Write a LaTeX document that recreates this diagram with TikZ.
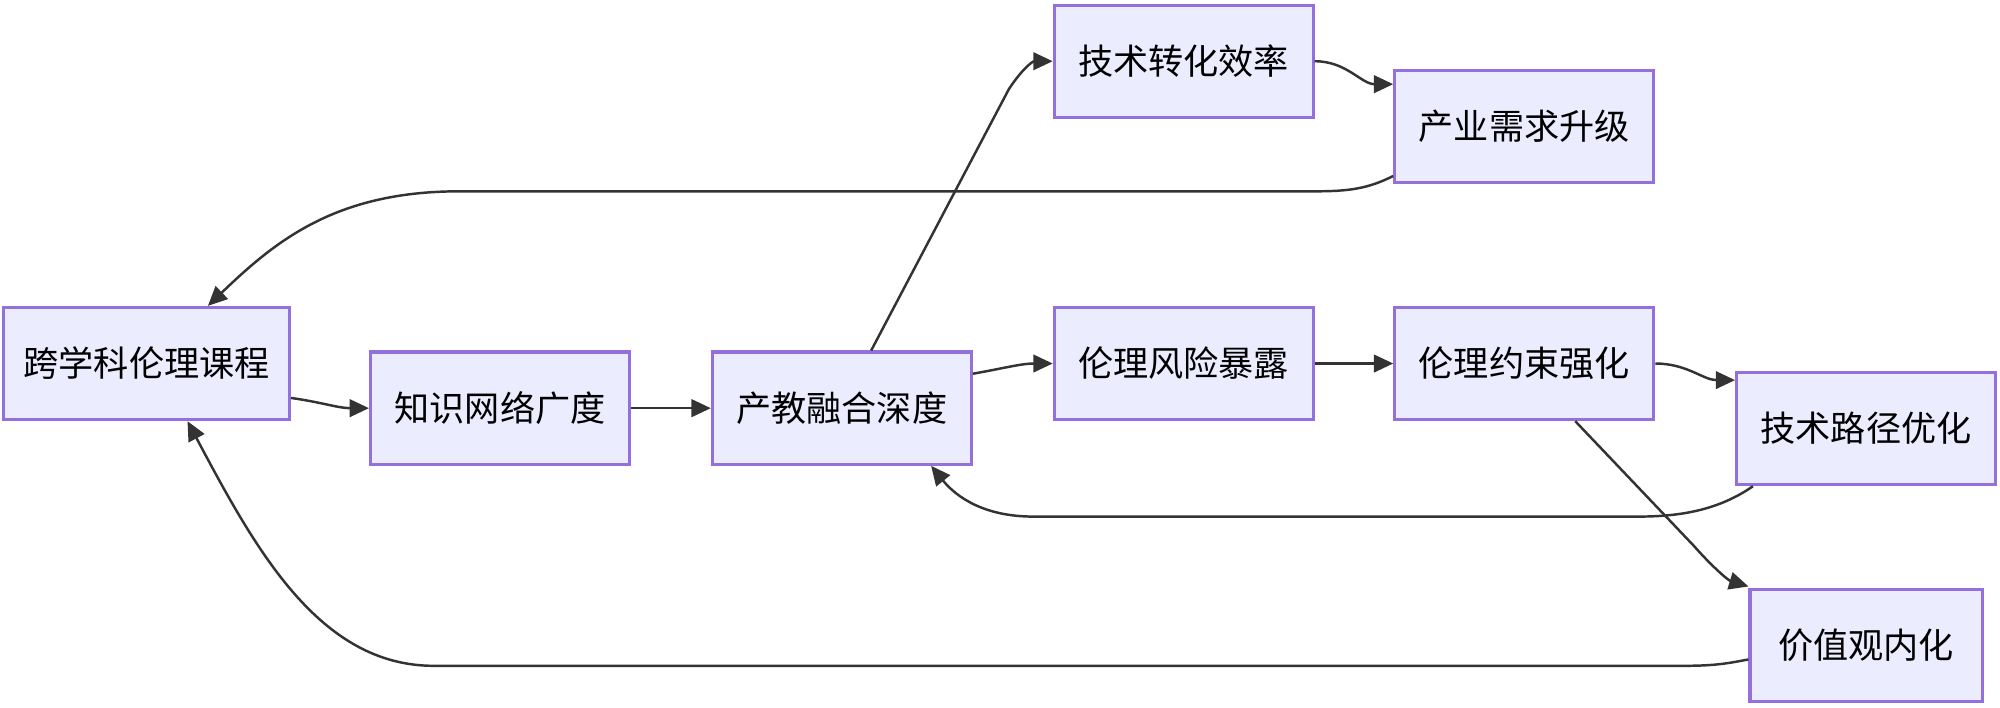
\documentclass[tikz,border=0pt]{standalone}
\usepackage{fontspec}
\setmainfont{Noto Sans CJK SC}
\usepackage{tikz}
\usetikzlibrary{arrows.meta,calc}
\definecolor{boxfill}{HTML}{ECECFF}
\definecolor{boxline}{HTML}{9370DB}
\definecolor{edgeline}{HTML}{333333}

\begin{document}
\begin{tikzpicture}[x=0.012755cm, y=-0.012755cm, font=\fontsize{10}{12}\selectfont,
    -{Triangle[length=5.5pt,width=5pt]}, draw=edgeline, line width=0.7pt]
    \tikzstyle{stage}=[rectangle, draw=boxline, fill=boxfill, line width=0.9pt,
        minimum width=2.589cm, minimum height=1.122cm, inner sep=0pt]
    \tikzstyle{wide stage}=[stage, minimum width=2.857cm]
    \tikzstyle{narrow stage}=[stage, minimum width=2.321cm]

    \useasboundingbox (0,0) rectangle (1568,555);

    % Draw the stages
    \node[wide stage] (course) at (115,285) {跨学科伦理课程};
    \node[stage] (net) at (392,320) {知识网络广度};
    \node[stage] (fusion) at (660,320) {产教融合深度};
    \node[stage] (transfer) at (928,48) {技术转化效率};
    \node[stage] (demand) at (1195,99) {产业需求升级};
    \node[stage] (risk) at (928,285) {伦理风险暴露};
    \node[stage] (bound) at (1195,285) {伦理约束强化};
    \node[stage] (path) at (1463,336) {技术路径优化};
    \node[narrow stage] (value) at (1463,506) {价值观内化};

    % Forward links
    \draw ($(course.east)+(0,27)$) to[out=-8,in=180] (net.west);
    \draw (net) -- (fusion);
    \draw ($(fusion.north)+(23,0)$) -- ++(108,-205)
        .. controls +(12,-18) and +(-15,0) .. (transfer.west);
    \draw ($(fusion.east)+(0,-27)$) to[out=10,in=180] (risk.west);
    \draw (transfer.east) to[out=0,in=180] ($(demand.west)+(0,-33)$);
    \draw (risk) -- (bound);
    \draw (bound.east) to[out=0,in=180] ($(path.west)+(0,-38)$);
    \draw ($(bound.south)+(40,0)$) -- (1328,428)
        .. controls (1343,445) and (1355,455) .. ($(value.north west)+(0,-1)$);

    % Feedback links
    \draw ($(demand.west)+(0,39)$) .. controls (1072,148) and (1058,150) .. (1030,150)
        -- (360,150) .. controls (262,150) and (215,190) .. ($(course.north)+(48,0)$);
    \draw ($(path.south west)+(14,0)$) .. controls (1350,398) and (1322,405) .. (1285,405)
        -- (810,405) .. controls (772,405) and (750,390) .. ($(fusion.south)+(70,0)$);
    \draw ($(value.west)+(0,11)$) .. controls (1355,520) and (1345,522) .. (1320,522)
        -- (340,522) .. controls (250,522) and (200,430) .. ($(course.south)+(32,0)$);
\end{tikzpicture}
\end{document}
